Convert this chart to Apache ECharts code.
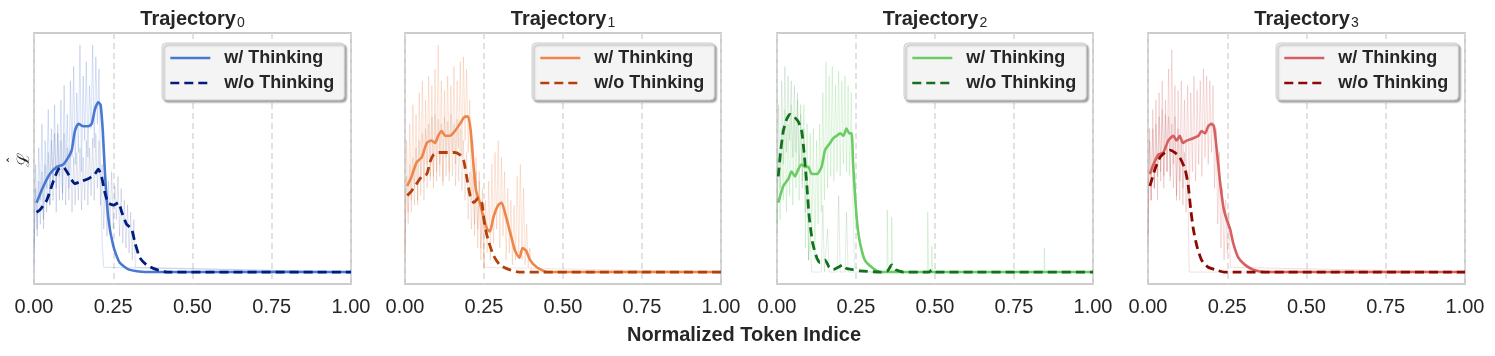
<!DOCTYPE html>
<html>
<head>
<meta charset="utf-8">
<script src="https://cdn.jsdelivr.net/npm/echarts@6/dist/echarts.min.js"></script>
<style>
  html, body { margin: 0; padding: 0; background: #fff; }
  #chart { width: 1495px; height: 356px; }
</style>
</head>
<body>
<div id="chart"></div>
<script>
// ---- data ----
var xTicks = [0, 0.25, 0.5, 0.75, 1.0];
var panelIds = ['0', '1', '2', '3'];
var seriesNames = ['w/ Thinking', 'w/o Thinking'];
var rawStep = 0.005;   // raw traces are sampled every 0.005 from x = 0

// smoothed curves, w/ Thinking
var think0X = [0.008,0.03,0.05,0.072,0.092,0.108,0.119,0.129,0.14,0.156,0.171,0.182,0.192,0.203,0.21,0.217,0.224,0.234,0.25,0.27,0.30,0.35,1.0];
var think0Y = [0.29,0.36,0.41,0.44,0.45,0.48,0.51,0.59,0.62,0.61,0.61,0.62,0.68,0.71,0.70,0.59,0.41,0.23,0.11,0.04,0.01,0,0];
var think1X = [0.007,0.021,0.037,0.053,0.069,0.084,0.095,0.105,0.116,0.127,0.142,0.158,0.174,0.19,0.20,0.208,0.216,0.225,0.237,0.248,0.26,0.269,0.28,0.295,0.306,0.316,0.332,0.348,0.362,0.372,0.383,0.396,0.417,0.45,1.0];
var think1Y = [0.36,0.40,0.46,0.48,0.54,0.55,0.54,0.57,0.59,0.57,0.57,0.59,0.62,0.65,0.65,0.59,0.46,0.34,0.29,0.23,0.18,0.17,0.23,0.28,0.29,0.25,0.17,0.09,0.06,0.10,0.09,0.05,0.02,0,0];
var think2X = [0.004,0.02,0.036,0.046,0.057,0.067,0.078,0.089,0.099,0.11,0.126,0.141,0.152,0.168,0.178,0.189,0.20,0.21,0.22,0.229,0.236,0.241,0.247,0.254,0.263,0.278,0.305,0.33,1.0];
var think2Y = [0.29,0.36,0.39,0.42,0.40,0.43,0.45,0.44,0.44,0.41,0.41,0.44,0.51,0.54,0.56,0.57,0.58,0.57,0.60,0.58,0.58,0.45,0.32,0.20,0.12,0.05,0.015,0,0];
var think3X = [0.006,0.017,0.032,0.048,0.064,0.08,0.09,0.10,0.11,0.122,0.143,0.159,0.169,0.18,0.19,0.20,0.208,0.217,0.227,0.238,0.248,0.259,0.269,0.285,0.306,0.332,0.37,1.0];
var think3Y = [0.41,0.45,0.49,0.50,0.55,0.57,0.55,0.57,0.54,0.55,0.56,0.57,0.59,0.58,0.61,0.62,0.61,0.51,0.38,0.27,0.22,0.18,0.12,0.06,0.03,0.01,0,0];

// smoothed curves, w/o Thinking
var noThink0X = [0.008,0.019,0.04,0.061,0.077,0.092,0.108,0.129,0.15,0.171,0.192,0.203,0.213,0.224,0.234,0.25,0.266,0.277,0.292,0.308,0.319,0.334,0.355,0.387,0.42,1.0];
var noThink0Y = [0.25,0.26,0.30,0.38,0.43,0.44,0.41,0.37,0.38,0.39,0.41,0.43,0.40,0.33,0.29,0.28,0.29,0.25,0.20,0.18,0.12,0.06,0.03,0.01,0,0];
var noThink1X = [0.007,0.021,0.037,0.053,0.069,0.079,0.09,0.105,0.132,0.158,0.174,0.185,0.195,0.206,0.218,0.232,0.243,0.253,0.264,0.28,0.30,0.33,0.36,1.0];
var noThink1Y = [0.32,0.34,0.37,0.40,0.41,0.46,0.49,0.50,0.50,0.50,0.49,0.47,0.40,0.32,0.29,0.31,0.29,0.19,0.13,0.07,0.03,0.01,0,0];
var noThink2X = [0.004,0.012,0.02,0.031,0.041,0.054,0.067,0.078,0.085,0.094,0.102,0.113,0.126,0.136,0.152,0.165,0.178,0.194,0.208,0.22,0.24,0.26,0.33,0.35,0.363,0.375,0.40,0.48,0.49,0.50,1.0];
var noThink2Y = [0.40,0.51,0.59,0.64,0.66,0.65,0.63,0.59,0.51,0.37,0.23,0.12,0.06,0.04,0.05,0.02,0.01,0.02,0.03,0.015,0.01,0.005,0,0.005,0.03,0.01,0,0,0.008,0,0];
var noThink3X = [0.006,0.022,0.038,0.054,0.069,0.085,0.10,0.117,0.127,0.135,0.143,0.154,0.169,0.19,0.217,0.24,1.0];
var noThink3Y = [0.36,0.43,0.48,0.50,0.51,0.50,0.48,0.43,0.36,0.26,0.18,0.11,0.05,0.02,0.008,0,0];

// raw (unsmoothed) traces, w/ Thinking
var rawThink0 = [0.02,0.45,0.18,0.52,0.30,0.62,0.22,0.55,0.35,0.68,0.28,0.60,0.38,0.70,0.25,0.58,0.40,0.72,0.30,0.78,0.42,0.66,0.35,0.80,0.48,0.86,0.45,0.75,0.50,0.95,0.42,0.82,0.55,0.88,0.48,0.78,0.60,0.95,0.52,0.90,0.62,0.85,0.40,0.12,0.02];
var rawThink1 = [0.05,0.55,0.25,0.62,0.30,0.70,0.35,0.66,0.28,0.75,0.40,0.80,0.38,0.72,0.45,0.82,0.40,0.78,0.35,0.85,0.42,0.95,0.45,0.80,0.38,0.76,0.48,0.82,0.42,0.78,0.50,0.86,0.45,0.80,0.52,0.88,0.48,0.90,0.55,0.85,0.50,0.72,0.30,0.55,0.15,0.48,0.10,0.42,0.05,0.35,0.02,0.30,0.08,0.38,0.05,0.45,0.12,0.50,0.18,0.55,0.10,0.48,0.15,0.42,0.05,0.35,0.08,0.30,0.03,0.28,0.05,0.40,0.08,0.45,0.05,0.35,0.03,0.20,0.02,0.10,0.0];
var rawThink2 = [0.15,0.50,0.22,0.60,0.30,0.68,0.25,0.62,0.32,0.70,0.28,0.65,0.35,0.72,0.30,0.66,0.38,0.70,0.10,0.62,0.05,0.58,0.15,0.60,0.05,0.55,0.20,0.62,0.25,0.75,0.30,0.88,0.35,0.82,0.40,0.86,0.38,0.78,0.42,0.84,0.40,0.80,0.45,0.82,0.42,0.78,0.40,0.75,0.30,0.02];
var rawThink3 = [0.10,0.60,0.30,0.68,0.35,0.72,0.30,0.75,0.38,0.80,0.35,0.72,0.42,0.85,0.40,0.93,0.45,0.78,0.30,0.76,0.38,0.80,0.35,0.72,0.40,0.78,0.30,0.75,0.42,0.82,0.38,0.76,0.45,0.80,0.40,0.85,0.48,0.82,0.45,0.80,0.50,0.78,0.35,0.60,0.20,0.50,0.10,0.35,0.05,0.30,0.08,0.25,0.02];
// isolated spikes after the main raw segment, as [x, value]
var rawThink2Tail = [[0.30,0],[0.348,0],[0.349,0.26],[0.352,0],[0.362,0],[0.363,0.23],[0.366,0],[0.476,0],[0.477,0.25],[0.48,0],[0.489,0],[0.49,0.11],[0.492,0],[0.845,0],[0.846,0.10],[0.848,0],[1.0,0]];

// raw traces, w/o Thinking
var rawNoThink0 = [0.10,0.35,0.15,0.38,0.20,0.42,0.18,0.45,0.25,0.50,0.28,0.55,0.30,0.58,0.35,0.62,0.30,0.55,0.33,0.58,0.28,0.52,0.30,0.50,0.25,0.48,0.28,0.50,0.30,0.52,0.26,0.48,0.30,0.55,0.28,0.52,0.32,0.56,0.30,0.58,0.35,0.55,0.28,0.45,0.18,0.40,0.15,0.38,0.20,0.42,0.18,0.36,0.22,0.40,0.15,0.35,0.12,0.30,0.10,0.28,0.08,0.25,0.05,0.22,0.02];
var rawNoThink1 = [0.10,0.40,0.20,0.45,0.25,0.48,0.28,0.52,0.30,0.55,0.32,0.58,0.30,0.60,0.35,0.62,0.38,0.65,0.40,0.66,0.38,0.64,0.40,0.62,0.36,0.65,0.40,0.63,0.38,0.66,0.40,0.62,0.36,0.64,0.38,0.60,0.34,0.55,0.30,0.50,0.22,0.42,0.18,0.40,0.20,0.42,0.18,0.38,0.10,0.25,0.02];
var rawNoThink2 = [0.20,0.70,0.35,0.80,0.45,0.86,0.50,0.82,0.55,0.80,0.48,0.78,0.50,0.75,0.42,0.70,0.35,0.60,0.25,0.40,0.05,0.15,0.0,0.0,0.0];
var rawNoThink3 = [0.15,0.55,0.30,0.60,0.35,0.62,0.40,0.65,0.42,0.68,0.40,0.66,0.42,0.65,0.38,0.62,0.35,0.65,0.32,0.60,0.30,0.55,0.28,0.50,0.25,0.40,0.0];
var rawNoThink2Tail = [[0.14,0],[0.145,0.28],[0.15,0],[0.16,0.18],[0.165,0],[0.19,0],[0.195,0.32],[0.2,0],[0.215,0],[0.22,0.25],[0.225,0],[1.0,0]];

// seaborn muted / dark palettes
var thinkColors = ['#4878d0', '#ee854a', '#6acc64', '#d65f5f'];
var noThinkColors = ['#001c7f', '#b1400d', '#12711c', '#8c0800'];

// ---- layout ----
var gridLefts = [34, 405, 777, 1148];
var gridWidths = [317, 316, 316, 317];
var gridTop = 33, gridHeight = 251;
var fontFam = '"Liberation Sans", Arial, sans-serif';
var textColor = '#262626';

var thinkX = [think0X, think1X, think2X, think3X];
var thinkY = [think0Y, think1Y, think2Y, think3Y];
var noThinkX = [noThink0X, noThink1X, noThink2X, noThink3X];
var noThinkY = [noThink0Y, noThink1Y, noThink2Y, noThink3Y];
var rawThink = [rawThink0, rawThink1, rawThink2, rawThink3];
var rawNoThink = [rawNoThink0, rawNoThink1, rawNoThink2, rawNoThink3];
var rawThinkTail = [[[1.0, 0]], [[1.0, 0]], rawThink2Tail, [[1.0, 0]]];
var rawNoThinkTail = [[[1.0, 0]], [[1.0, 0]], rawNoThink2Tail, [[1.0, 0]]];

function pairs(xs, ys) {
  return xs.map(function (x, k) { return [x, ys[k]]; });
}
function rawPairs(vals, tail) {
  return vals.map(function (v, k) { return [k * rawStep, v]; }).concat(tail);
}

var grids = [], xAxes = [], yAxes = [], series = [], legends = [], graphics = [];

panelIds.forEach(function (id, i) {
  grids.push({
    left: gridLefts[i], top: gridTop, width: gridWidths[i], height: gridHeight,
    show: true, borderColor: '#cccccc', borderWidth: 2, containLabel: false
  });
  xAxes.push({
    type: 'value', gridIndex: i, min: xTicks[0], max: xTicks[xTicks.length - 1], interval: 0.25,
    axisLine: { show: false }, axisTick: { show: false },
    axisLabel: {
      fontSize: 20, color: textColor, fontFamily: fontFam, margin: 13,
      formatter: function (v) { return v.toFixed(2); }
    },
    splitLine: { show: true, lineStyle: { color: '#d9d9d9', width: 1.5, type: [6, 4] } }
  });
  yAxes.push({
    type: 'value', gridIndex: i, min: -0.05, max: 1.0,
    axisLine: { show: false }, axisTick: { show: false },
    axisLabel: { show: false }, splitLine: { show: false }
  });

  // raw traces underneath
  series.push({
    name: 'raw-think-' + id, type: 'line', xAxisIndex: i, yAxisIndex: i,
    data: rawPairs(rawThink[i], rawThinkTail[i]),
    symbol: 'none', silent: true, z: 1,
    lineStyle: { color: thinkColors[i], width: 1, opacity: 0.22 }
  });
  series.push({
    name: 'raw-nothink-' + id, type: 'line', xAxisIndex: i, yAxisIndex: i,
    data: rawPairs(rawNoThink[i], rawNoThinkTail[i]),
    symbol: 'none', silent: true, z: 1,
    lineStyle: { color: noThinkColors[i], width: 1, opacity: 0.13 }
  });
  // smoothed curves
  series.push({
    name: seriesNames[0] + '#' + id, type: 'line', xAxisIndex: i, yAxisIndex: i,
    data: pairs(thinkX[i], thinkY[i]), symbol: 'none', smooth: 0.2, z: 3,
    itemStyle: { color: thinkColors[i] },
    lineStyle: { color: thinkColors[i], width: 2.6 }
  });
  series.push({
    name: seriesNames[1] + '#' + id, type: 'line', xAxisIndex: i, yAxisIndex: i,
    data: pairs(noThinkX[i], noThinkY[i]), symbol: 'none', smooth: 0.2, z: 4,
    itemStyle: { color: noThinkColors[i] },
    lineStyle: { color: noThinkColors[i], width: 2.8, type: [9, 5] }
  });

  legends.push({
    left: gridLefts[i] + gridWidths[i] - 189, top: 43,
    orient: 'vertical',
    data: [seriesNames[0] + '#' + id, seriesNames[1] + '#' + id],
    formatter: function (n) { return n.split('#')[0]; },
    itemWidth: 40, itemHeight: 14, itemGap: 7,
    padding: [6, 10, 8, 7],
    itemStyle: { opacity: 0 },
    lineStyle: { width: 2.6 },
    backgroundColor: '#f4f4f4', borderColor: '#cfcfcf', borderWidth: 1, borderRadius: 4,
    shadowColor: 'rgba(0,0,0,0.35)', shadowBlur: 2, shadowOffsetX: 2, shadowOffsetY: 2,
    textStyle: { fontSize: 18, fontWeight: 'bold', color: textColor, fontFamily: fontFam, padding: [0, 0, 0, 9] },
    selectedMode: false
  });

  // panel title with subscript index
  graphics.push({
    type: 'text', x: gridLefts[i] + gridWidths[i] / 2, y: 19,
    style: {
      text: '{t|Trajectory}{s|' + id + '}',
      align: 'center', verticalAlign: 'middle',
      rich: {
        t: { fontSize: 20, fontWeight: 'bold', fontFamily: fontFam, fill: textColor, color: textColor },
        s: { fontSize: 14, fontFamily: fontFam, fill: textColor, color: textColor, padding: [9, 0, 0, 1] }
      }
    }
  });
});

// shared axis titles
graphics.push({
  type: 'text', x: 744, y: 335,
  style: {
    text: 'Normalized Token Indice', align: 'center', verticalAlign: 'middle',
    font: 'bold 20px ' + fontFam, fill: textColor
  }
});
// y label: script L with a hat, rotated to read upward
graphics.push({
  type: 'group', x: 23, y: 160, rotation: Math.PI / 2,
  children: [
    { type: 'text', x: 0, y: 2,
      style: { text: '\u2112', align: 'center', verticalAlign: 'middle',
               font: '17px "DejaVu Serif", serif', fill: textColor } },
    { type: 'text', x: 0, y: -9,
      style: { text: '\u02C6', align: 'center', verticalAlign: 'middle',
               font: '14px "DejaVu Sans", sans-serif', fill: textColor } }
  ]
});

var chart = echarts.init(document.getElementById('chart'));
chart.setOption({
  animation: false,
  backgroundColor: '#ffffff',
  grid: grids,
  xAxis: xAxes,
  yAxis: yAxes,
  legend: legends,
  graphic: graphics,
  series: series
});
</script>
</body>
</html>
